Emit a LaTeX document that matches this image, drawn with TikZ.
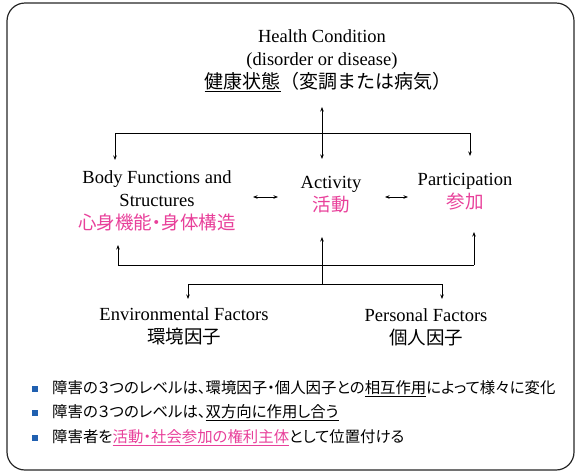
\documentclass[tikz,border=0pt]{standalone}
\usepackage{fontspec}
\setmainfont{Liberation Serif}
\newfontfamily\jp[RawFeature=+palt]{Noto Sans CJK JP}
\newfontfamily\jpw{Noto Sans CJK JP}
\usetikzlibrary{arrows.meta}
\definecolor{icfpink}{HTML}{E8409A}
\definecolor{icfblue}{HTML}{2060B0}
\tikzset{
  lbl/.style={align=center, inner sep=0pt, font=\fontsize{18.5}{23}\selectfont},
  item/.style={anchor=west, inner sep=0pt, font=\jp\fontsize{15.4}{17}\selectfont},
  arr/.style={line width=0.8pt, -{Stealth[length=4.5pt,width=3.5pt]}},
  dbl/.style={line width=0.8pt, {Stealth[length=4.5pt,width=3.5pt]}-{Stealth[length=4.5pt,width=3.5pt]}},
  bul/.style={fill=icfblue, minimum size=6pt, inner sep=0pt}
}
\begin{document}
\begin{tikzpicture}[x=1pt,y=-1pt]
  \useasboundingbox (0,0) rectangle (578,475);
  \draw[line width=1.2pt, black!85, rounded corners=18pt] (7,3) rectangle (574,470);

  % labels
  \node[lbl] (hc) at (322,61) {Health Condition\\(disorder or disease)\\{\hspace*{12pt}\jpw\fontsize{19}{23}\selectfont\underline{健康状態}（変調または病気）}};
  \node[lbl] (body) at (157,201) {Body Functions and\\Structures\\{\jp\fontsize{18.5}{23}\selectfont\color{icfpink}心身機能・身体構造}};
  \node[lbl] (act) at (331,195) {Activity\\{\jp\color{icfpink}活動}};
  \node[lbl] (part) at (465,192) {Participation\\{\jp\color{icfpink}参加}};
  \node[lbl] (env) at (184,326) {Environmental Factors\\{\jp 環境因子}};
  \node[lbl] (pers) at (426,327) {Personal Factors\\{\jp 個人因子}};

  % upper bus
  \coordinate (hcjoin) at (322,133);
  \coordinate (busL) at (115,133);
  \coordinate (busR) at (470,133);
  \draw[line width=0.8pt] (busL) -- (busR);
  \draw[dbl] (hcjoin |- 0,107) -- (hcjoin |- 0,159);
  \draw[arr] (busL) -- (busL |- 0,160);
  \draw[arr] (busR) -- (busR |- 0,156);

  % sideways arrows
  \coordinate (bodyR) at (253,197);
  \coordinate (actL) at (278,197);
  \coordinate (actR) at (385,197);
  \coordinate (partL) at (408,197);
  \draw[dbl] (bodyR) -- (actL);
  \draw[dbl] (actR) -- (partL);

  % lower bus
  \coordinate (lowL) at (118,265);
  \coordinate (lowR) at (474,265);
  \coordinate (fork) at (322,284);
  \draw[arr] (lowL) -- (lowL |- 0,245);
  \draw[arr] (lowR) -- (lowR |- 0,232);
  \draw[line width=0.8pt] (lowL) -- (lowR);
  \draw[arr] (fork) -- (fork |- 0,237);
  \coordinate (envtop) at (188,284);
  \coordinate (perstop) at (442,284);
  \draw[line width=0.8pt] (envtop) -- (perstop);
  \draw[arr] (envtop) -- (envtop |- 0,299);
  \draw[arr] (perstop) -- (perstop |- 0,299);

  % notes
  \node[bul] (b1) at (35,389) {};
  \node[bul] (b2) at (35,413) {};
  \node[bul] (b3) at (35,438) {};
  \node[item] (t1) at (52,389) {障害の３つのレベルは、環境因子・個人因子との\underline{相互作用}によって様々に変化};
  \node[item] (t2) at (52,413) {障害の３つのレベルは、\underline{双方向に作用し合う}};
  \node[item] (t3) at (52,438) {障害者を{\color{icfpink}\underline{活動・社会参加の権利主体}}として位置付ける};
\end{tikzpicture}
\end{document}
